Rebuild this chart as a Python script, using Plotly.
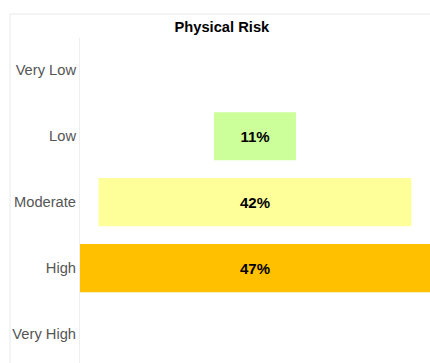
import plotly.graph_objects as go

# Risk levels, top to bottom, and the share of assets in each
categories = ["Very Low", "Low", "Moderate", "High", "Very High"]
shares = [0, 11, 42, 47, 0]
colors = ["#CCFF99", "#CCFF99", "#FFFF99", "#FFC000", "#FFC000"]

labels = [f"{v}%" if v > 0 else "" for v in shares]
bases = [-v / 2 for v in shares]  # centre each bar on zero (funnel layout)

fig = go.Figure(
    go.Bar(
        y=categories,
        x=shares,
        base=bases,
        orientation="h",
        width=0.73,
        marker=dict(color=colors, line=dict(width=0)),
        text=labels,
        textposition="inside",
        insidetextanchor="middle",
        textfont=dict(family="Liberation Sans, Arial", size=15, color="#000000", weight="bold"),
        hoverinfo="skip",
    )
)

half = max(shares) / 2
fig.update_layout(
    width=430,
    height=363,
    margin=dict(l=80, r=0, t=38, b=0),
    paper_bgcolor="white",
    plot_bgcolor="white",
    showlegend=False,
    title=dict(
        text="<b>Physical Risk</b>",
        x=0.516,
        xref="container",
        xanchor="center",
        y=1 - 27 / 363,
        yref="container",
        yanchor="middle",
        font=dict(family="Liberation Sans, Arial", size=14.7, color="#000000"),
    ),
    xaxis=dict(
        range=[-half, half],
        visible=False,
        fixedrange=True,
    ),
    yaxis=dict(
        type="category",
        categoryorder="array",
        categoryarray=categories,
        range=[4.44, -0.49],
        showgrid=False,
        zeroline=False,
        showline=True,
        linecolor="#eeeeee",
        linewidth=1,
        ticks="",
        ticklabelstandoff=0,
        tickfont=dict(family="Liberation Sans, Arial", size=14.7, color="#555555"),
        fixedrange=True,
    ),
    shapes=[
        dict(
            type="rect",
            xref="paper",
            yref="paper",
            x0=(10 - 80) / 350,
            x1=1.2,
            y0=-0.2,
            y1=1 + 24 / 325,
            line=dict(color="#e8e8e8", width=1),
            fillcolor="rgba(0,0,0,0)",
            layer="below",
        )
    ],
)

fig.write_html("out.html", config={"displayModeBar": False})
